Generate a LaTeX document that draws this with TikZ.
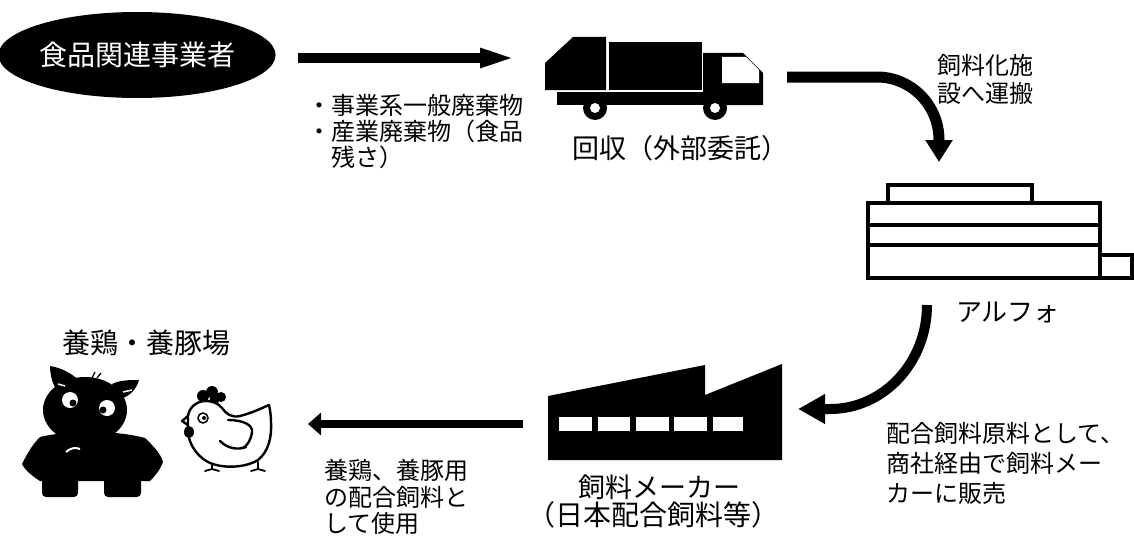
\documentclass[tikz,border=0pt]{standalone}
\usepackage{fontspec}
\setmainfont{Noto Sans CJK JP}
\usetikzlibrary{arrows.meta,shapes.geometric}
\begin{document}
\begin{tikzpicture}[x=1pt,y=-1pt,
  lbl/.style={inner sep=0pt, anchor=west, font=\fontsize{24}{28}\selectfont},
  captext/.style={inner sep=0pt, font=\fontsize{27}{30}\selectfont},
  flow/.style={line width=10pt},
  wall/.style={draw=black, line width=4pt},
  outline/.style={draw=black, line width=2.4pt, line join=round, line cap=round}]
\useasboundingbox (0,0) rectangle (1134,543);

% business operators
\node[ellipse, fill=black, minimum width=256pt, minimum height=86pt, inner sep=0pt,
      text=white, font=\fontsize{28}{30}\selectfont] (biz) at (137,55) {食品関連事業者};

% collection truck
\fill (545,63) -- (573,37) -- (606,37) -- (606,90) -- (545,90) -- cycle;
\fill (609,42) rectangle (702,90);
\fill (557,92) rectangle (705,105);
\fill (703,53) -- (743,53) -- (763,73) -- (763,105) -- (703,105) -- cycle;
\fill[white] (722,57) -- (746,57) -- (759,70) -- (759,83) -- (722,83) -- cycle;
\foreach \wx in {595,715}{
  \fill (\wx,108) circle[radius=12];
  \fill[white] (\wx,108) circle[radius=5];
}
\node[captext] (truck) at (680,148) {回収（外部委託）};

% waste labels
\node[lbl] (w1) at (307,105) {・事業系一般廃棄物};
\node[lbl] (w2) at (307,131) {・産業廃棄物（食品};
\node[lbl] (w3) at (331,157) {残さ）};

% transport label
\node[lbl] (t1) at (937,65) {飼料化施};
\node[lbl] (t2) at (937,93) {設へ運搬};

% Alfo plant
\draw[wall] (888,203) -- (888,185) -- (1032,185) -- (1032,203);
\draw[wall] (868,203) rectangle (1100,278);
\draw[wall] (868,225) -- (1100,225);
\draw[wall] (868,245) -- (1100,245);
\draw[wall] (1100,255) -- (1132,255) -- (1132,278) -- (1100,278);
\node[lbl, font=\fontsize{26}{30}\selectfont] (alfo) at (956,313) {アルフォ};

% sale label
\node[lbl] (s1) at (886,433) {配合飼料原料として、};
\node[lbl] (s2) at (886,463) {商社経由で飼料メー};
\node[lbl] (s3) at (886,493) {カーに販売};

% feed maker factory
\fill (548,460) -- (548,396) -- (705,365) -- (705,395) -- (782,364) -- (782,460) -- cycle;
\foreach \a/\b in {559/592,598/630,636/669,674/707,713/743}
  \fill[white] (\a,417) rectangle (\b,431);
\node[captext] (maker) at (659,487) {飼料メーカー};
\node[captext, font=\fontsize{28}{30}\selectfont] (maker2) at (653,515) {（日本配合飼料等）};

% usage label
\node[lbl] (u1) at (324,470) {養鶏、養豚用};
\node[lbl] (u2) at (324,497) {の配合飼料と};
\node[lbl] (u3) at (324,523) {して使用};

% farms
\node[captext, font=\fontsize{28}{30}\selectfont] (farm) at (146,343) {養鶏・養豚場};

% pig
\fill (50,366) .. controls (62,368) and (74,374) .. (82,384)
      -- (64,400) .. controls (56,392) and (50,380) .. (50,366) -- cycle;
\fill (139,380) .. controls (136,390) and (130,396) .. (120,399)
      -- (112,384) .. controls (120,380) and (130,380) .. (139,380) -- cycle;
\fill (85,410) ellipse[x radius=42, y radius=33];
\fill (40,437) .. controls (70,430) and (115,430) .. (145,438)
      .. controls (152,445) and (160,452) .. (163,462)
      .. controls (160,470) and (155,476) .. (150,481) -- (40,481)
      .. controls (32,476) and (25,470) .. (22,464)
      .. controls (28,452) and (33,444) .. (40,437) -- cycle;
\fill[rounded corners=4pt] (42,474) rectangle (78,497);
\fill[rounded corners=4pt] (104,474) rectangle (141,497);
\draw[white, line width=1.5pt] (58,384) -- (65,386);
\draw[white, line width=1.5pt] (123,392) -- (132,390);
\fill[white] (70,400) circle[radius=8];
\fill (73,403) circle[radius=3.5];
\fill[white] (107,408) circle[radius=8];
\fill (103,410) circle[radius=3.5];
\draw[white, line width=2pt] (66,452) .. controls (70,448) and (76,447) .. (80,449);
\draw[line width=1.2pt] (92,378) -- (95,372) (97,378) -- (101,373);

% chicken
\fill (203,396) circle[radius=6];
\fill (212,392) circle[radius=6];
\fill (221,397) circle[radius=5];
\fill (214,401) circle[radius=5];
\filldraw[outline, fill=white] (206,401) .. controls (196,401) and (189,408) .. (188,416)
      -- (188,424) .. controls (186,440) and (195,455) .. (208,462)
      .. controls (222,469) and (245,468) .. (258,460)
      .. controls (268,452) and (272,438) .. (271,422)
      .. controls (271,415) and (270,410) .. (269,405)
      .. controls (262,408) and (252,413) .. (240,416)
      .. controls (232,418) and (226,414) .. (222,408)
      .. controls (218,403) and (212,401) .. (206,401) -- cycle;
\draw[outline] (188,416) -- (182,421) -- (188,425);
\fill (189,432) ellipse[x radius=5, y radius=6];
\draw[line width=1.5pt] (203,418) circle[radius=5];
\fill (204,418) circle[radius=2];
\draw[outline] (228,420) .. controls (245,420) and (253,426) .. (252,432)
      .. controls (251,440) and (247,446) .. (243,448);
\draw[outline] (220,441) .. controls (228,449) and (238,450) .. (246,447);
\draw[outline, line width=1.8pt] (212,464) -- (212,469) (205,471) -- (212,469) -- (219,471);
\draw[outline, line width=1.8pt] (258,462) -- (258,469) (251,471) -- (258,469) -- (265,471);

% flow arrows
\coordinate (a1s) at (298,58);
\coordinate (a1e) at (518,58);
\draw[flow, -{Triangle[length=38pt,width=17pt]}] (a1s) -- (a1e);

\coordinate (a2s) at (787,77);
\coordinate (a2e) at (939,162);
\draw[flow, line width=11pt, -{Triangle[length=22pt,width=26pt]}]
  (a2s) -- (877,77) .. controls (911,77) and (939,105) .. (939,140) -- (a2e);

\coordinate (a3s) at (927,305);
\coordinate (a3e) at (798,409);
\draw[flow, -{Triangle[length=27pt,width=28pt]}]
  (a3s) .. controls (927,362) and (884,409) .. (830,409) -- (a3e);

\coordinate (a4s) at (523,424);
\coordinate (a4e) at (308,424);
\draw[flow, line width=8pt, -{Triangle[length=13pt,width=22pt]}] (a4s) -- (a4e);
\end{tikzpicture}
\end{document}
